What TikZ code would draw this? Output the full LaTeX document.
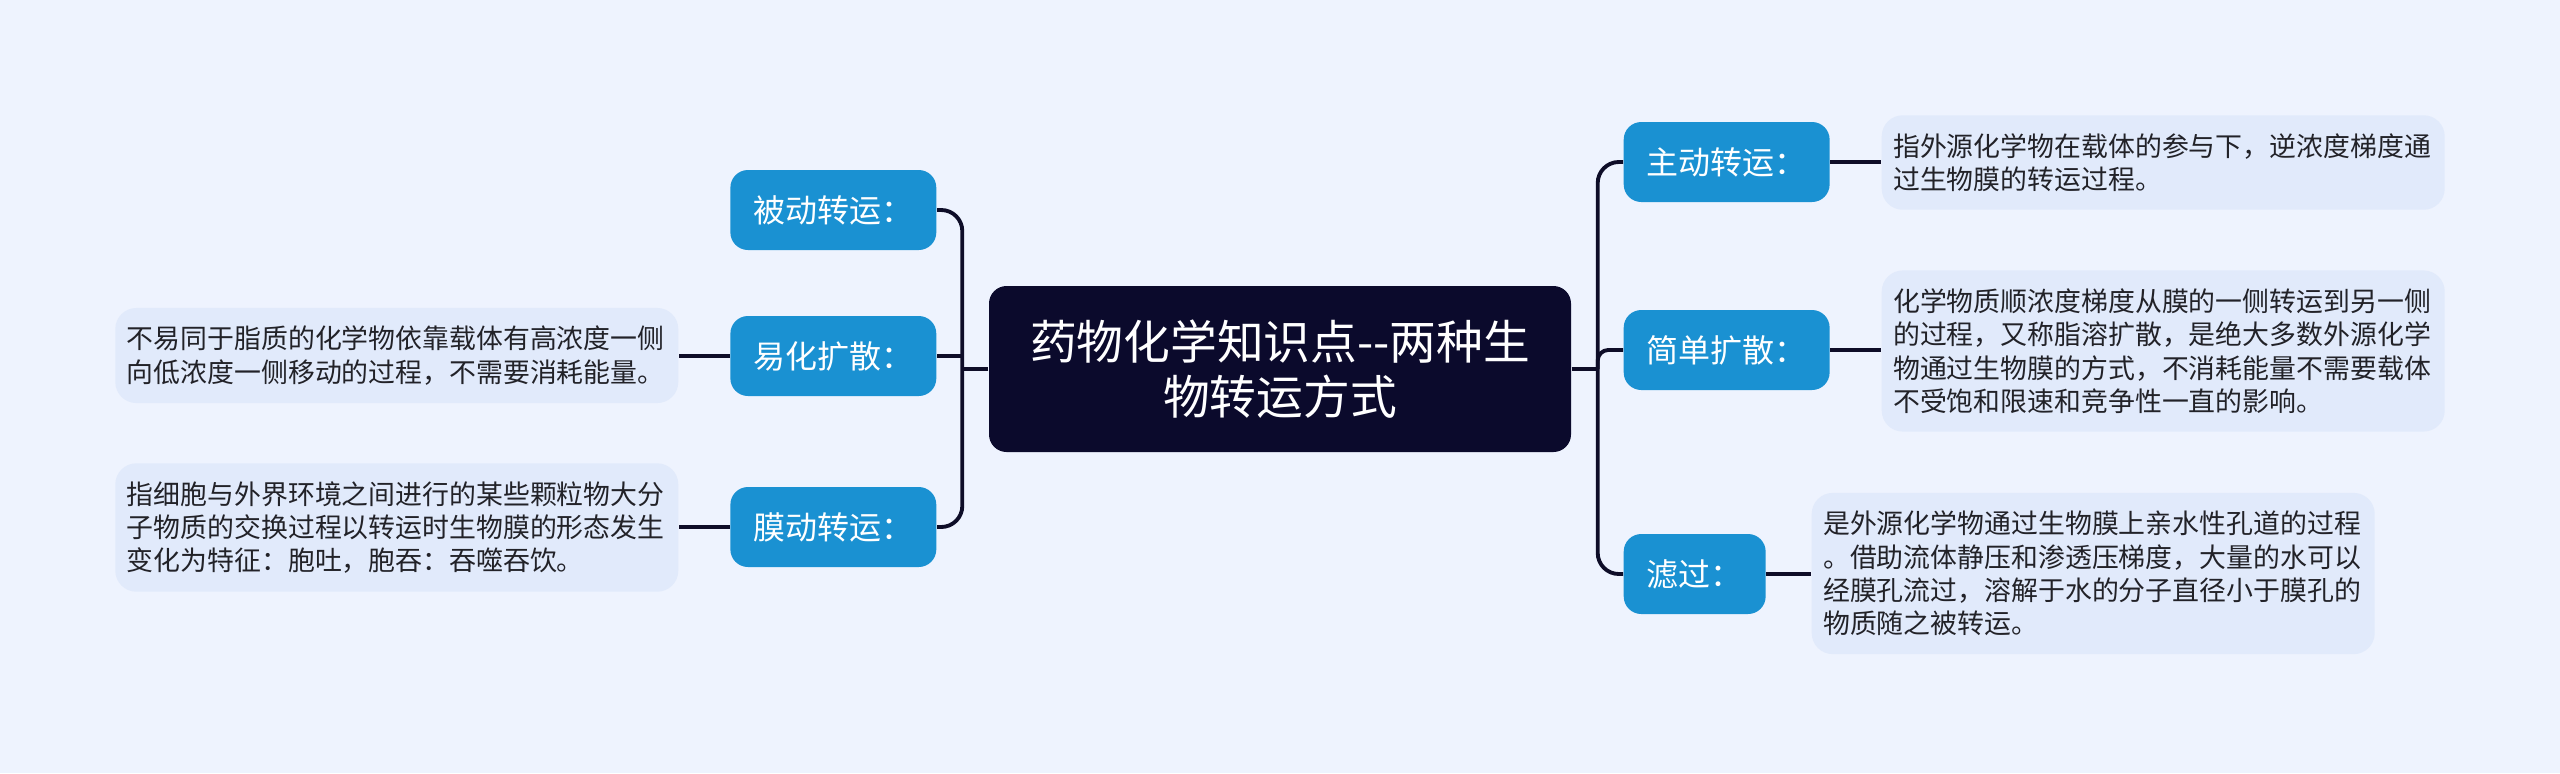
\documentclass[tikz,border=0pt]{standalone}
\usepackage{fontspec}
\newfontfamily\cjk{Noto Sans CJK SC}
\usepackage{xcolor}
\usetikzlibrary{calc}
\definecolor{colPage}{RGB}{238, 243, 254}
\definecolor{colRoot}{RGB}{11, 10, 44}
\definecolor{colTopic}{RGB}{26, 145, 210}
\definecolor{colNote}{RGB}{225, 234, 251}
\definecolor{colLink}{RGB}{14, 13, 40}
\definecolor{darkText}{RGB}{34, 34, 40}

\begin{document}
\begin{tikzpicture}

  % Page background (also fixes the bounding box)
  \fill[colPage] (0,0) rectangle (25.60,-7.73);

  % Helper styles for the map
  \tikzset{
    root/.style={
      fill=colRoot, text=white, rounded corners=5pt,
      font=\cjk\fontsize{13.3pt}{15.8pt}\selectfont,
      align=center, minimum width=5.82cm, minimum height=1.66cm
    },
    topic/.style={
      fill=colTopic, text=white, rounded corners=5pt,
      font=\cjk\fontsize{9.1pt}{11pt}\selectfont,
      inner xsep=0.23cm, minimum height=0.80cm
    },
    note/.style={
      fill=colNote, text=darkText, rounded corners=6pt,
      font=\cjk\fontsize{7.65pt}{9.5pt}\selectfont,
      text width=5.40cm, align=left, inner xsep=0.115cm, inner ysep=0.18cm
    },
    link/.style={draw=colLink, line width=1.1pt, rounded corners=6pt}
  }

  % Central topic
  \node[root] (root) at (12.80,-3.69) {药物化学知识点-{}-两种生\\物转运方式};

  % Spine points left and right of the central topic
  \coordinate (lspine) at ($(root.west)+(-0.26,0)$);
  \coordinate (rspine) at ($(root.east)+(0.26,0)$);

  % --- Right branches ---
  \node[topic, anchor=west] (active) at (16.23,-1.62) {主动转运：};
  \node[topic, anchor=west] (simple) at (16.23,-3.50) {简单扩散：};
  \node[topic, anchor=west] (filter) at (16.23,-5.74) {滤过：};

  \node[note, anchor=west] (activeNote) at (18.81,-1.625)
    {指外源化学物在载体的参与下，逆浓度梯度通\\过生物膜的转运过程。};
  \node[note, anchor=west] (simpleNote) at (18.81,-3.51)
    {化学物质顺浓度梯度从膜的一侧转运到另一侧\\的过程，又称脂溶扩散，是绝大多数外源化学\\物通过生物膜的方式，不消耗能量不需要载体\\不受饱和限速和竞争性一直的影响。};
  \node[note, anchor=west] (filterNote) at (18.11,-5.735)
    {是外源化学物通过生物膜上亲水性孔道的过程\\。借助流体静压和渗透压梯度，大量的水可以\\经膜孔流过，溶解于水的分子直径小于膜孔的\\物质随之被转运。};

  % --- Left branches ---
  \node[topic, anchor=east] (passive) at (9.37,-2.10) {被动转运：};
  \node[topic, anchor=east] (facil)   at (9.37,-3.56) {易化扩散：};
  \node[topic, anchor=east] (bulk)    at (9.37,-5.27) {膜动转运：};

  \node[note, anchor=east] (facilNote) at (6.79,-3.555)
    {不易同于脂质的化学物依靠载体有高浓度一侧\\向低浓度一侧移动的过程，不需要消耗能量。};
  \node[note, anchor=east] (bulkNote) at (6.79,-5.275)
    {指细胞与外界环境之间进行的某些颗粒物大分\\子物质的交换过程以转运时生物膜的形态发生\\变化为特征：胞吐，胞吞：吞噬吞饮。};

  % Connectors: spines first, then the stubs
  \draw[link] (root.east) -- (rspine);
  \draw[link] (active.west) -| (rspine) |- (filter.west);
  \draw[link, rounded corners=3pt] (rspine) |- (simple.west);
  \draw[link] (root.west) -- (lspine);
  \draw[link] (passive.east) -| (lspine) |- (bulk.east);
  \draw[link] (facil.east) -- (facil.east -| lspine);

  \draw[link] (active.east) -- (active.east -| activeNote.west);
  \draw[link] (simple.east) -- (simple.east -| simpleNote.west);
  \draw[link] (filter.east) -- (filter.east -| filterNote.west);
  \draw[link] (facil.west)  -- (facil.west -| facilNote.east);
  \draw[link] (bulk.west)   -- (bulk.west -| bulkNote.east);

\end{tikzpicture}
\end{document}
